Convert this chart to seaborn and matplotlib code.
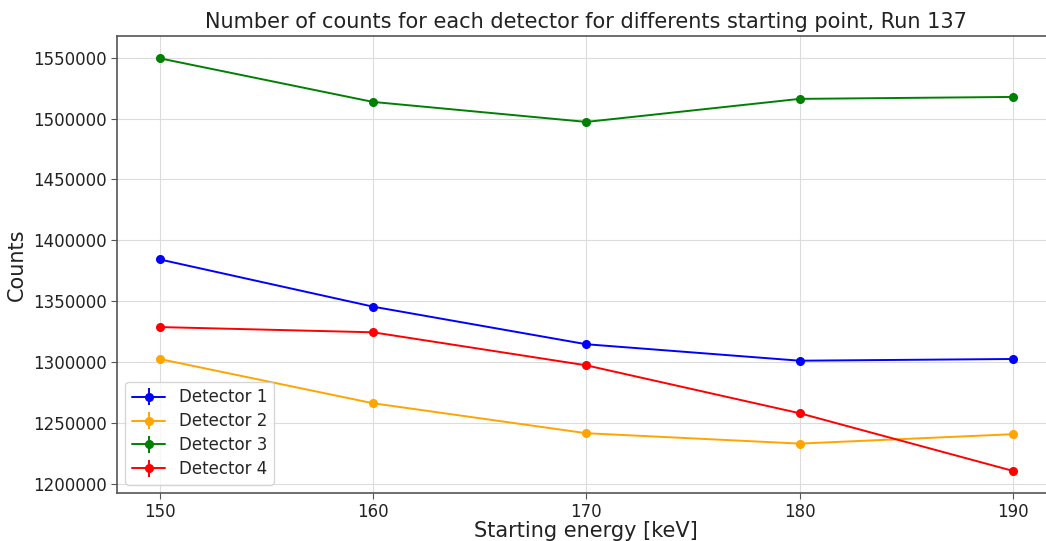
import numpy as np
import matplotlib
matplotlib.use("Agg")
import matplotlib.pyplot as plt
import seaborn as sns

energies = [150, 160, 170, 180, 190]
det1 = [1384400, 1345650, 1314800, 1301300, 1302700]
det2 = [1302700, 1266400, 1241800, 1233300, 1241000]
det3 = [1549400, 1513600, 1497200, 1516100, 1517700]
det4 = [1328900, 1324600, 1297500, 1258200, 1210900]
labels = ["Detector 1", "Detector 2", "Detector 3", "Detector 4"]
colors = ["blue", "orange", "green", "red"]

sns.set_style("ticks", {"axes.grid": True, "grid.color": "#dcdcdc",
                        "axes.edgecolor": "#555555", "xtick.color": "#555555",
                        "ytick.color": "#555555"})
plt.rcParams['font.family'] = ['DejaVu Sans']

fig = plt.figure(figsize=(10.46, 5.41), dpi=100)
ax = fig.add_axes([117/1046, 48/541, (1055.6-117)/1046, (493-36)/541])

for vals, lab, col in zip([det1, det2, det3, det4], labels, colors):
    v = np.array(vals, dtype=float)
    ax.errorbar(energies, v, yerr=np.sqrt(v), color=col, marker='o',
                markersize=5.5, linewidth=1.4, label=lab)

ax.set_xticks(energies)
ax.tick_params(axis='both', labelsize=12, labelcolor='#222222', length=4)
ax.set_xlabel("Starting energy [keV]", fontsize=15, color='#222222', labelpad=0)
ax.set_ylabel("Counts", fontsize=15, color='#222222')
ax.set_title("Number of counts for each detector for differents starting point, Run 137",
             fontsize=15, color='#222222', pad=6)
ax.ticklabel_format(axis='y', style='plain', useOffset=False)
ax.legend(loc='lower left', fontsize=12, frameon=True, labelspacing=0.35)
for s in ax.spines.values():
    s.set_linewidth(1.2)

fig.savefig("out.png", dpi=100)
